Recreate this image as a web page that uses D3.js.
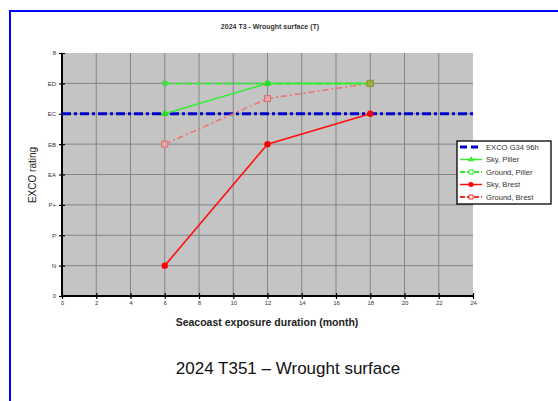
<!DOCTYPE html>
<html><head><meta charset="utf-8">
<script src="https://cdn.jsdelivr.net/npm/d3@7"></script>
<style>body{margin:0;background:#fff;}svg{display:block;font-family:Arial,"Liberation Sans",sans-serif;}</style>
</head><body><svg id="c" width="558" height="401"></svg>
<script>
const months = [6, 12, 18];
const xTicks = [0,2,4,6,8,10,12,14,16,18,20,22,24];
const yTickLabels = ["0","N","P","P+","EA","EB","EC","ED","8"];
const excoLevel = [6];
const skyPillar = [6, 7, 7];
const groundPillar = [7, 7, 7];
const skyBrest = [1, 5, 6];
const groundBrest = [5, 6.5, 7];
const legendNames = ["EXCO G34 96h","Sky, Piller","Ground, Piller","Sky,  Brest","Ground, Brest"];

const svg = d3.select("#c");
svg.append("line").attr("x1",10).attr("x2",558).attr("y1",11).attr("y2",11).attr("stroke","#0000ff").attr("stroke-width",2);
svg.append("line").attr("x1",10).attr("x2",10).attr("y1",10).attr("y2",401).attr("stroke","#0000ff").attr("stroke-width",2);

const m = {l:62, r:473, t:53, b:296};
const x = d3.scaleLinear().domain([0,24]).range([m.l,m.r]);
const y = d3.scaleLinear().domain([0,8]).range([m.b,m.t]);

svg.append("rect").attr("x",m.l).attr("y",m.t).attr("width",m.r-m.l).attr("height",m.b-m.t).attr("fill","#c4c4c4");
svg.append("g").selectAll("line").data(xTicks.slice(1,-1)).join("line")
  .attr("x1",d=>x(d)).attr("x2",d=>x(d)).attr("y1",m.t).attr("y2",m.b).attr("stroke","#858585").attr("stroke-width",1);
svg.append("g").selectAll("line").data(d3.range(1,8)).join("line")
  .attr("x1",m.l).attr("x2",m.r).attr("y1",d=>y(d)).attr("y2",d=>y(d)).attr("stroke","#858585").attr("stroke-width",1);

const xAxis = d3.axisBottom(x).tickValues(xTicks).tickSize(4).tickFormat(d3.format("d"));
const gx = svg.append("g").attr("transform",`translate(0,${m.b})`).call(xAxis);
gx.select(".domain").attr("stroke","#000").attr("stroke-width",2).attr("d",`M${m.l},0H${m.r}`);
gx.selectAll(".tick line").attr("y1",-3).attr("y2",3).attr("stroke-width",1.2);
gx.selectAll("text").attr("font-size",6).attr("fill","#333").attr("dy","0.4em");
const yAxis = d3.axisLeft(y).tickValues(d3.range(0,9)).tickSize(4).tickFormat(d=>yTickLabels[d]);
const gy = svg.append("g").attr("transform",`translate(${m.l},0)`).call(yAxis);
gy.select(".domain").attr("stroke","#000").attr("stroke-width",2).attr("d",`M0,${m.t}V${m.b}`);
gy.selectAll(".tick line").attr("x1",-3).attr("x2",3).attr("stroke-width",1.2);
gy.selectAll("text").attr("font-size",6).attr("fill","#333").attr("x",-6);

const line = d3.line().x((d,i)=>x(months[i])).y(d=>y(d));
svg.append("line").attr("x1",m.l).attr("x2",m.r).attr("y1",y(excoLevel[0])).attr("y2",y(excoLevel[0]))
  .attr("stroke","#0000cc").attr("stroke-width",3).attr("stroke-dasharray","9,3,3,3");

const series = [
  {v:groundBrest, c:"#f07070", w:1.5, dash:"6,3,2,3", mk:"sqo"},
  {v:skyBrest, c:"#ff1010", w:1.6, dash:null, mk:"circ"},
  {v:groundPillar, c:"#33ee33", w:2, dash:"7,3", mk:"sq"},
  {v:skyPillar, c:"#33ee33", w:1.5, dash:null, mk:"tri"},
];
series.forEach(s=>{
  svg.append("path").attr("d",line(s.v)).attr("fill","none").attr("stroke",s.c).attr("stroke-width",s.w)
    .attr("stroke-dasharray",s.dash);
});
function marker(g,type,cx,cy){
  if(type==="circ") g.append("circle").attr("cx",cx).attr("cy",cy).attr("r",3.2).attr("fill","#ff0000");
  else if(type==="sqo") g.append("rect").attr("x",cx-3).attr("y",cy-3).attr("width",6).attr("height",6).attr("fill","#e0a8a8").attr("stroke","#e07070").attr("stroke-width",1);
  else if(type==="sq") g.append("rect").attr("x",cx-2.5).attr("y",cy-2.5).attr("width",5).attr("height",5).attr("fill","#40e040");
  else if(type==="tri") g.append("path").attr("d",d3.symbol(d3.symbolTriangle,26)()).attr("transform",`translate(${cx},${cy})`).attr("fill","#22dd22");
}
series.forEach(s=>{
  const g = svg.append("g");
  s.v.forEach((d,i)=>{
    if(s.mk==="sq" && i===2) return;
    marker(g,s.mk,x(months[i]),y(d));
  });
});
svg.append("rect").attr("x",x(18)-3).attr("y",y(7)-3).attr("width",6).attr("height",6).attr("fill","#a0b040").attr("stroke","#8a9a30");

svg.append("text").attr("x",270).attr("y",29).attr("text-anchor","middle").attr("font-size",7).attr("font-weight","bold").attr("fill","#333").text("2024 T3 - Wrought surface (T)");
svg.append("text").attr("transform","translate(36,175) rotate(-90)").attr("text-anchor","middle").attr("font-size",10).attr("fill","#222").text("EXCO rating");
svg.append("text").attr("x",267).attr("y",326).attr("text-anchor","middle").attr("font-size",10.5).attr("font-weight","bold").attr("fill","#222").text("Seacoast exposure duration (month)");
svg.append("text").attr("x",288).attr("y",374).attr("text-anchor","middle").attr("font-size",17).attr("fill","#111").text("2024 T351 \u2013 Wrought surface");

const lg = svg.append("g");
lg.append("rect").attr("x",457).attr("y",141).attr("width",94).attr("height",63).attr("fill","#fff").attr("stroke","#000").attr("stroke-width",1.3);
const lstyle = [
  {c:"#0000cc",w:3,dash:"7,4",mk:null},
  {c:"#33ee33",w:1.5,dash:null,mk:"tri"},
  {c:"#33ee33",w:2,dash:"5,2",mk:"sq"},
  {c:"#ff1010",w:1.5,dash:null,mk:"circ"},
  {c:"#f03030",w:2,dash:"5,2",mk:"sqo"},
];
legendNames.forEach((n,i)=>{
  const ly = 147 + i*12.5;
  lg.append("line").attr("x1",460).attr("x2",482).attr("y1",ly).attr("y2",ly).attr("stroke",lstyle[i].c).attr("stroke-width",lstyle[i].w).attr("stroke-dasharray",lstyle[i].dash);
  if(lstyle[i].mk){
    const g = lg.append("g");
    if(lstyle[i].mk==="circ") g.append("circle").attr("cx",471).attr("cy",ly).attr("r",2.5).attr("fill","#ff0000");
    else if(lstyle[i].mk==="tri") g.append("path").attr("d",d3.symbol(d3.symbolTriangle,16)()).attr("transform",`translate(471,${ly})`).attr("fill","#33ee33");
    else if(lstyle[i].mk==="sq") g.append("rect").attr("x",469).attr("y",ly-2).attr("width",4).attr("height",4).attr("fill","#fff").attr("stroke","#33ee33");
    else g.append("rect").attr("x",469).attr("y",ly-2).attr("width",4).attr("height",4).attr("fill","#fff").attr("stroke","#f03030");
  }
  lg.append("text").attr("x",486).attr("y",ly+2.5).attr("font-size",7.6).attr("fill","#333").text(n);
});
</script></body></html>
